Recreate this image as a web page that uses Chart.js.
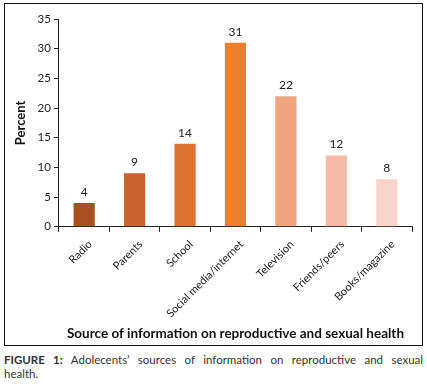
<!DOCTYPE html>
<html>
<head>
<meta charset="utf-8">
<script src="https://cdn.jsdelivr.net/npm/chart.js@4"></script>
<style>
  body { margin: 0; background: #fff; width: 427px; height: 389px; position: relative; overflow: hidden; }
  #box { position: absolute; left: 4px; top: 3px; width: 417px; height: 341px; border: 1px solid #111; }
  #wrap { position: absolute; left: 0; top: 0; width: 417px; height: 341px; }
  #caption { position: absolute; left: 4px; top: 353px; width: 419px; font-family: Lato, "Open Sans", sans-serif; font-size: 11.5px; color: #333; line-height: 14px; }
  #caption .l1 { text-align: justify; text-align-last: justify; }
  #caption b { color: #333; }
</style>
</head>
<body>
<div id="box"><div id="wrap"><canvas id="sourcesChart"></canvas></div></div>
<div id="caption">
  <div class="l1"><b>FIGURE 1:</b> Adolecents’ sources of information on reproductive and sexual</div>
  <div>health.</div>
</div>
<script>
// categories and values
const sources = ["Radio", "Parents", "School", "Social media/internet", "Television", "Friends/peers", "Books/magazine"];
const percent = [4, 9, 14, 31, 22, 12, 8];
const barColors = ["#A8501E", "#C9622C", "#DE7230", "#EE7F2D", "#F0A481", "#F5BAA8", "#F8D4C9"];
const yTicks = [0, 5, 10, 15, 20, 25, 30, 35];

const fontFamily = "Lato, 'Open Sans', sans-serif";

// simple value labels above each bar
const valueLabels = {
    id: "valueLabels",
    afterDatasetsDraw(chart) {
        const ctx = chart.ctx;
        const meta = chart.getDatasetMeta(0);
        ctx.save();
        ctx.fillStyle = "#222";
        ctx.font = "12px " + fontFamily;
        ctx.textAlign = "center";
        ctx.textBaseline = "bottom";
        meta.data.forEach((bar, i) => {
            ctx.fillText(percent[i], bar.x, bar.y - 5);
        });
        ctx.restore();
    }
};

const ctx = document.getElementById("sourcesChart").getContext("2d");
new Chart(ctx, {
    type: "bar",
    data: {
        labels: sources,
        datasets: [{
            data: percent,
            backgroundColor: barColors,
            barPercentage: 0.42,
            categoryPercentage: 1
        }]
    },
    options: {
        responsive: true,
        maintainAspectRatio: false,
        animation: false,
        layout: { padding: { left: 8, right: 10, top: 15, bottom: 4 } },
        plugins: {
            legend: { display: false },
            tooltip: { enabled: false }
        },
        scales: {
            x: {
                grid: { display: true, offset: true, drawOnChartArea: false, drawTicks: true, tickLength: 5, color: "#222" },
                border: { color: "#222", width: 1 },
                ticks: {
                    color: "#222",
                    font: { family: fontFamily, size: 11 },
                    minRotation: 45,
                    maxRotation: 45,
                    autoSkip: false,
                    padding: 6,
                    labelOffset: 6
                },
                title: {
                    display: true,
                    text: "Source of information on reproductive and sexual health",
                    color: "#111",
                    font: { family: fontFamily, size: 13.5, weight: "bold", lineHeight: 1.1 },
                    padding: { top: 0, bottom: 0 }
                }
            },
            y: {
                min: 0,
                max: 35,
                afterBuildTicks(axis) {
                    axis.ticks = yTicks.map(v => ({ value: v }));
                },
                grid: { display: true, drawOnChartArea: false, drawTicks: true, tickLength: 5, color: "#222" },
                border: { color: "#222", width: 1 },
                ticks: {
                    color: "#222",
                    font: { family: fontFamily, size: 11.5 },
                    padding: 3
                },
                title: {
                    display: true,
                    text: "Percent",
                    color: "#111",
                    font: { family: fontFamily, size: 13, weight: "bold" },
                    padding: { top: 0, bottom: 6 }
                }
            }
        }
    },
    plugins: [valueLabels]
});
</script>
</body>
</html>
